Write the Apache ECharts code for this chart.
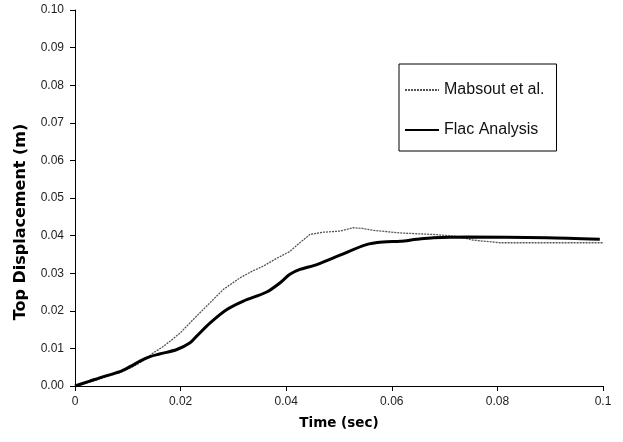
<!DOCTYPE html>
<html>
<head>
<meta charset="utf-8">
<script src="https://cdn.jsdelivr.net/npm/echarts@6/dist/echarts.min.js"></script>
<style>
	html, body { margin: 0; padding: 0; background: #fff; }
	#chart { width: 623px; height: 442px; }
</style>
</head>
<body>
<div id="chart"></div>
<script>
// values
const mabsoutTime = [0, 0.003, 0.006, 0.0085, 0.0105, 0.0117, 0.0135, 0.0148, 0.0165, 0.018, 0.02, 0.0224, 0.0249, 0.0281, 0.0313, 0.0335, 0.0357, 0.038, 0.0407, 0.0425, 0.0445, 0.047, 0.0502, 0.0527, 0.0545, 0.0565, 0.0616, 0.0679, 0.0723, 0.0754, 0.0805, 0.0868, 0.1];
const mabsoutDisp = [0, 0.0011, 0.0025, 0.0036, 0.0048, 0.0057, 0.0072, 0.0088, 0.0103, 0.0119, 0.0142, 0.0177, 0.0212, 0.0257, 0.0288, 0.0305, 0.0319, 0.0338, 0.0358, 0.038, 0.0403, 0.0409, 0.0412, 0.0421, 0.0419, 0.0414, 0.0407, 0.0403, 0.0398, 0.0388, 0.0381, 0.0381, 0.0381];

const flacTime = [0, 0.0028, 0.0054, 0.0085, 0.0105, 0.0123, 0.0142, 0.016, 0.0193, 0.0218, 0.023, 0.0256, 0.0287, 0.0319, 0.0363, 0.0388, 0.0407, 0.0426, 0.0458, 0.0502, 0.0552, 0.0584, 0.0616, 0.0647, 0.0679, 0.0742, 0.0893, 0.0994];
const flacDisp = [0, 0.0013, 0.0025, 0.0038, 0.0052, 0.0066, 0.0078, 0.0085, 0.0097, 0.0115, 0.0132, 0.0168, 0.0203, 0.0226, 0.025, 0.0274, 0.0297, 0.031, 0.0323, 0.0348, 0.0376, 0.0383, 0.0385, 0.039, 0.0394, 0.0396, 0.0394, 0.039];

const seriesNames = ['Mabsout et al.', 'Flac Analysis'];

const zip = (xs, ys) => xs.map((x, i) => [x, ys[i]]);

let chart = echarts.init(document.getElementById('chart'));

let axisText = { color: '#222', fontFamily: 'Liberation Sans', fontSize: 12 };
let nameText = { color: '#000', fontFamily: 'DejaVu Sans', fontWeight: 'bold', fontSize: 13.5 };

let option = {
	animation: false,
	backgroundColor: '#fff',
	grid: { left: 75, right: 20, top: 10, bottom: 56 },
	legend: {
		data: seriesNames,
		orient: 'vertical',
		left: 399,
		top: 64,
		itemWidth: 34,
		itemHeight: 14,
		itemGap: 24,
		padding: [18, 12, 13, 5],
		backgroundColor: '#fff',
		borderColor: '#000',
		borderWidth: 1,
		borderRadius: 0,
		itemStyle: { opacity: 0 },
		textStyle: { color: '#111', fontFamily: 'Liberation Sans', fontSize: 16 }
	},
	xAxis: {
		type: 'value',
		min: 0,
		max: 0.1,
		interval: 0.02,
		name: 'Time (sec)',
		nameLocation: 'middle',
		nameGap: 30,
		nameTextStyle: nameText,
		axisLine: { lineStyle: { color: '#000', width: 1 } },
		axisTick: { show: true, length: 5, lineStyle: { color: '#000' } },
		axisLabel: Object.assign({ margin: 10, formatter: v => String(+v.toFixed(2)) }, axisText),
		splitLine: { show: false }
	},
	yAxis: {
		type: 'value',
		min: 0,
		max: 0.1,
		interval: 0.01,
		name: 'Top Displacement (m)',
		nameLocation: 'middle',
		nameGap: 46,
		nameTextStyle: Object.assign({}, nameText, { fontSize: 16, padding: [0, 48, 0, 0] }),
		axisLine: { show: true, lineStyle: { color: '#000', width: 1 } },
		axisTick: { show: true, length: 5, lineStyle: { color: '#000' } },
		axisLabel: Object.assign({ margin: 11, formatter: v => v.toFixed(2) }, axisText),
		splitLine: { show: false }
	},
	series: [{
		name: seriesNames[0],
		type: 'line',
		data: zip(mabsoutTime, mabsoutDisp),
		symbol: 'none',
		lineStyle: { color: '#555', width: 1.3, type: [2, 1] },
		itemStyle: { color: '#555' },
		z: 2
	}, {
		name: seriesNames[1],
		type: 'line',
		data: zip(flacTime, flacDisp),
		symbol: 'none',
		smooth: 0.3,
		lineStyle: { color: '#000', width: 3 },
		itemStyle: { color: '#000' },
		z: 3
	}]
};
chart.setOption(option);
</script>
</body>
</html>
